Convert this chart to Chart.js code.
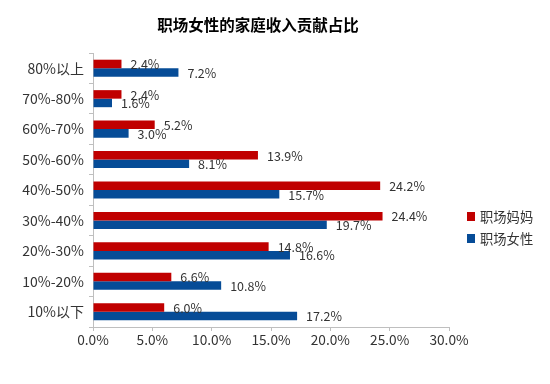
<!DOCTYPE html>
<html>
<head>
<meta charset="utf-8">
<script src="https://cdn.jsdelivr.net/npm/chart.js@4"></script>
<style>
  html, body { margin: 0; padding: 0; background: #fff; }
  #wrap { width: 550px; height: 384px; }
</style>
</head>
<body>
<div id="wrap"><canvas id="incomeChart" width="550" height="384"></canvas></div>
<script>
// Chart data
const categories = ["80%以上", "70%-80%", "60%-70%", "50%-60%", "40%-50%", "30%-40%", "20%-30%", "10%-20%", "10%以下"];
const momValues = [2.4, 2.4, 5.2, 13.9, 24.2, 24.4, 14.8, 6.6, 6.0];
const womenValues = [7.2, 1.6, 3.0, 8.1, 15.7, 19.7, 16.6, 10.8, 17.2];
const xTicks = [0, 5, 10, 15, 20, 25, 30];
const seriesNames = ["职场妈妈", "职场女性"];
const titleText = "职场女性的家庭收入贡献占比";

const FONT = "'Noto Sans CJK SC', 'Noto Sans', sans-serif";
const RED = "#C00000";
const BLUE = "#064C97";
const AXIS = "#BFBFBF";
const TEXT = "#333333";

// Value labels at the end of each bar
const valueLabels = {
    id: "valueLabels",
    afterDatasetsDraw(chart) {
        const ctx = chart.ctx;
        ctx.save();
        ctx.font = "12.5px " + FONT;
        ctx.fillStyle = TEXT;
        ctx.textAlign = "left";
        ctx.textBaseline = "middle";
        chart.data.datasets.forEach((ds, i) => {
            chart.getDatasetMeta(i).data.forEach((bar, j) => {
                ctx.fillText(ds.data[j].toFixed(1) + "%", bar.x + 9, bar.y + 0.5);
            });
        });
        ctx.restore();
    }
};

// Title and legend drawn by hand (legend sits beside the plot, below centre)
const titleAndLegend = {
    id: "titleAndLegend",
    afterDraw(chart) {
        const ctx = chart.ctx;
        ctx.save();
        ctx.fillStyle = "#000";
        ctx.font = "bold 15.5px " + FONT;
        ctx.textAlign = "center";
        ctx.textBaseline = "middle";
        ctx.fillText(titleText, 258, 25);

        ctx.font = "13.3px " + FONT;
        ctx.textAlign = "left";
        chart.data.datasets.forEach((ds, i) => {
            const y = 216.5 + i * 22;
            ctx.fillStyle = ds.backgroundColor;
            ctx.fillRect(467, y - 4.5, 8, 9);
            ctx.fillStyle = TEXT;
            ctx.fillText(ds.label, 480, y);
        });
        ctx.restore();
    }
};

const ctx = document.getElementById("incomeChart").getContext("2d");
const incomeChart = new Chart(ctx, {
    type: "bar",
    data: {
        labels: categories,
        datasets: [
            {
                label: seriesNames[0],
                data: momValues,
                backgroundColor: RED,
                categoryPercentage: 0.56,
                barPercentage: 1.0
            },
            {
                label: seriesNames[1],
                data: womenValues,
                backgroundColor: BLUE,
                categoryPercentage: 0.56,
                barPercentage: 1.0
            }
        ]
    },
    options: {
        indexAxis: "y",
        responsive: false,
        animation: false,
        layout: {
            padding: { top: 53, right: 101, bottom: 0, left: 0 }
        },
        plugins: {
            legend: { display: false },
            title: { display: false },
            tooltip: { enabled: false }
        },
        scales: {
            x: {
                min: 0,
                max: 30,
                afterBuildTicks: (axis) => {
                    axis.ticks = xTicks.map((v) => ({ value: v }));
                },
                afterFit: (axis) => { axis.height = 57; },
                grid: {
                    drawOnChartArea: false,
                    drawTicks: true,
                    tickLength: 4,
                    color: AXIS
                },
                border: { display: true, color: AXIS, width: 1 },
                ticks: {
                    padding: 1,
                    color: TEXT,
                    font: { family: FONT, size: 13.7 },
                    callback: (v) => Number(v).toFixed(1) + "%"
                }
            },
            y: {
                afterFit: (axis) => { axis.width = 93; },
                grid: {
                    offset: true,
                    drawOnChartArea: false,
                    drawTicks: true,
                    tickLength: 4,
                    color: AXIS
                },
                border: { display: true, color: AXIS, width: 1 },
                ticks: {
                    padding: 5,
                    color: TEXT,
                    font: { family: FONT, size: 14 }
                }
            }
        }
    },
    plugins: [valueLabels, titleAndLegend]
});
</script>
</body>
</html>
